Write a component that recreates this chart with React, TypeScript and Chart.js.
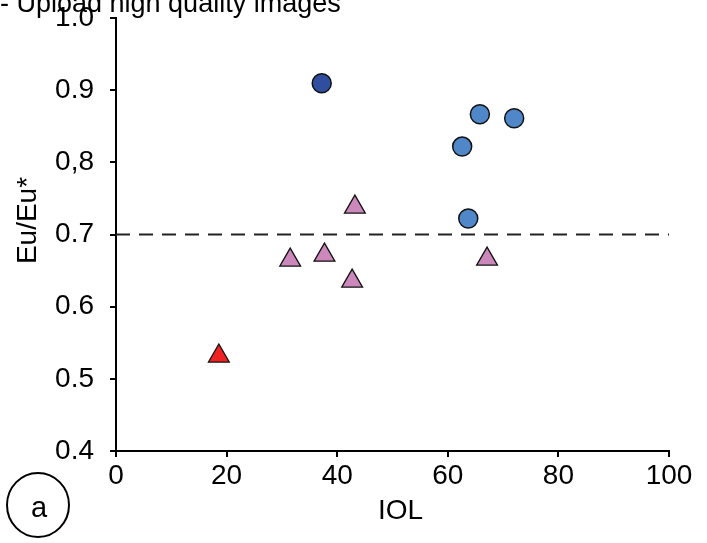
import React, { useEffect, useRef } from "react";
import { Chart, registerables } from "chart.js";

Chart.register(...registerables);

const topNote = "- Upload high quality images";
const xTitle = "IOL";
const yTitle = "Eu/Eu*";
const panelLabel = "a";

const yTickLabels: Record<string, string> = {
  "0.4": "0.4",
  "0.5": "0.5",
  "0.6": "0.6",
  "0.7": "0.7",
  "0.8": "0,8",
  "0.9": "0.9",
  "1": "1.0",
};

const darkBlueX = [37.2];
const darkBlueY = [0.9096];

const blueX = [65.8, 72.0, 62.6, 63.7];
const blueY = [0.8667, 0.8611, 0.8218, 0.7221];

const pinkX = [43.2, 31.5, 37.7, 42.7, 67.1];
const pinkY = [0.738, 0.6645, 0.6714, 0.6354, 0.6659];

const redX = [18.6];
const redY = [0.5316];

const refLineX = [0, 100];
const refLineY = [0.7, 0.7];

const zip = (xs: number[], ys: number[]) => xs.map((x, i) => ({ x, y: ys[i] }));

const FONT = '"Liberation Sans", Arial, Helvetica, sans-serif';

const decor = {
  id: "decor",
  afterDraw(chart: any) {
    const ctx = chart.ctx as CanvasRenderingContext2D;
    const { left, right, top, bottom } = chart.chartArea;
    ctx.save();
    ctx.fillStyle = "#000";
    ctx.strokeStyle = "#000";

    // x axis title
    ctx.font = `28px ${FONT}`;
    ctx.textAlign = "center";
    ctx.textBaseline = "middle";
    ctx.fillText(xTitle, (left + right) / 2 + 8, bottom + 60);

    // y axis title
    ctx.save();
    ctx.translate(left - 88, (top + bottom) / 2 - 14);
    ctx.rotate(-Math.PI / 2);
    ctx.fillText(yTitle, 0, 0);
    ctx.restore();

    // panel label
    ctx.lineWidth = 2;
    ctx.beginPath();
    ctx.ellipse(left - 78, bottom + 54, 31, 32, 0, 0, Math.PI * 2);
    ctx.stroke();
    ctx.font = `29px ${FONT}`;
    ctx.textAlign = "center";
    ctx.textBaseline = "alphabetic";
    ctx.fillText(panelLabel, left - 77, bottom + 66);

    // top note
    ctx.font = `27px ${FONT}`;
    ctx.textAlign = "left";
    ctx.textBaseline = "alphabetic";
    ctx.fillText(topNote, 0, 12);
    ctx.restore();
  },
};

export default function App() {
  const ref = useRef<HTMLCanvasElement | null>(null);

  useEffect(() => {
    if (!ref.current) return;
    Chart.defaults.font.family = FONT;
    const chart = new Chart(ref.current, {
      type: "scatter",
      data: {
        datasets: [
          {
            label: "threshold",
            data: zip(refLineX, refLineY),
            showLine: true,
            borderColor: "#222",
            borderWidth: 2,
            borderDash: [14, 9],
            pointRadius: 0,
            order: 10,
          },
          {
            label: "pink",
            data: zip(pinkX, pinkY),
            pointStyle: "triangle",
            pointRadius: 12,
            backgroundColor: "#CC88BB",
            borderColor: "#111",
            borderWidth: 1.3,
            order: 1,
          },
          {
            label: "red",
            data: zip(redX, redY),
            pointStyle: "triangle",
            pointRadius: 12,
            backgroundColor: "#EE2222",
            borderColor: "#111",
            borderWidth: 1.3,
            order: 1,
          },
          {
            label: "blue",
            data: zip(blueX, blueY),
            pointStyle: "circle",
            pointRadius: 9.5,
            backgroundColor: "#4F87C8",
            borderColor: "#111",
            borderWidth: 1.5,
            order: 1,
          },
          {
            label: "darkblue",
            data: zip(darkBlueX, darkBlueY),
            pointStyle: "circle",
            pointRadius: 9.5,
            backgroundColor: "#2F4E9E",
            borderColor: "#111",
            borderWidth: 1.5,
            order: 1,
          },
        ],
      },
      options: {
        animation: false,
        responsive: false,
        maintainAspectRatio: false,
        layout: { padding: { top: 18, right: 38, left: 0, bottom: 0 } },
        plugins: {
          legend: { display: false },
          tooltip: { enabled: false },
          title: { display: false },
        },
        scales: {
          x: {
            type: "linear",
            min: 0,
            max: 100,
            afterFit: (s: any) => {
              s.height = 92;
              s.paddingLeft = 0;
              s.paddingRight = 0;
            },
            border: { color: "#000", width: 2 },
            grid: {
              drawOnChartArea: false,
              drawTicks: true,
              tickLength: 6,
              color: "#000",
              lineWidth: 2,
            },
            ticks: {
              stepSize: 20,
              color: "#000",
              padding: 2,
              maxRotation: 0,
              font: { size: 28, family: FONT },
            },
          },
          y: {
            type: "linear",
            min: 0.4,
            max: 1.0,
            afterFit: (s: any) => {
              s.width = 116;
              s.paddingTop = 0;
              s.paddingBottom = 0;
            },
            border: { color: "#000", width: 2 },
            grid: {
              drawOnChartArea: false,
              drawTicks: true,
              tickLength: 6,
              color: "#000",
              lineWidth: 2,
            },
            ticks: {
              stepSize: 0.1,
              color: "#000",
              padding: 16,
              font: { size: 28, family: FONT },
              callback: (v: any) => {
                const key = String(Math.round(Number(v) * 10) / 10);
                return yTickLabels[key] ?? key;
              },
            },
          },
        },
      },
      plugins: [decor],
    });
    return () => chart.destroy();
  }, []);

  return (
    <div style={{ position: "absolute", left: 0, top: 0, width: 707, height: 543, background: "#fff" }}>
      <canvas ref={ref} width={707} height={543} style={{ display: "block", width: 707, height: 543 }} />
    </div>
  );
}
